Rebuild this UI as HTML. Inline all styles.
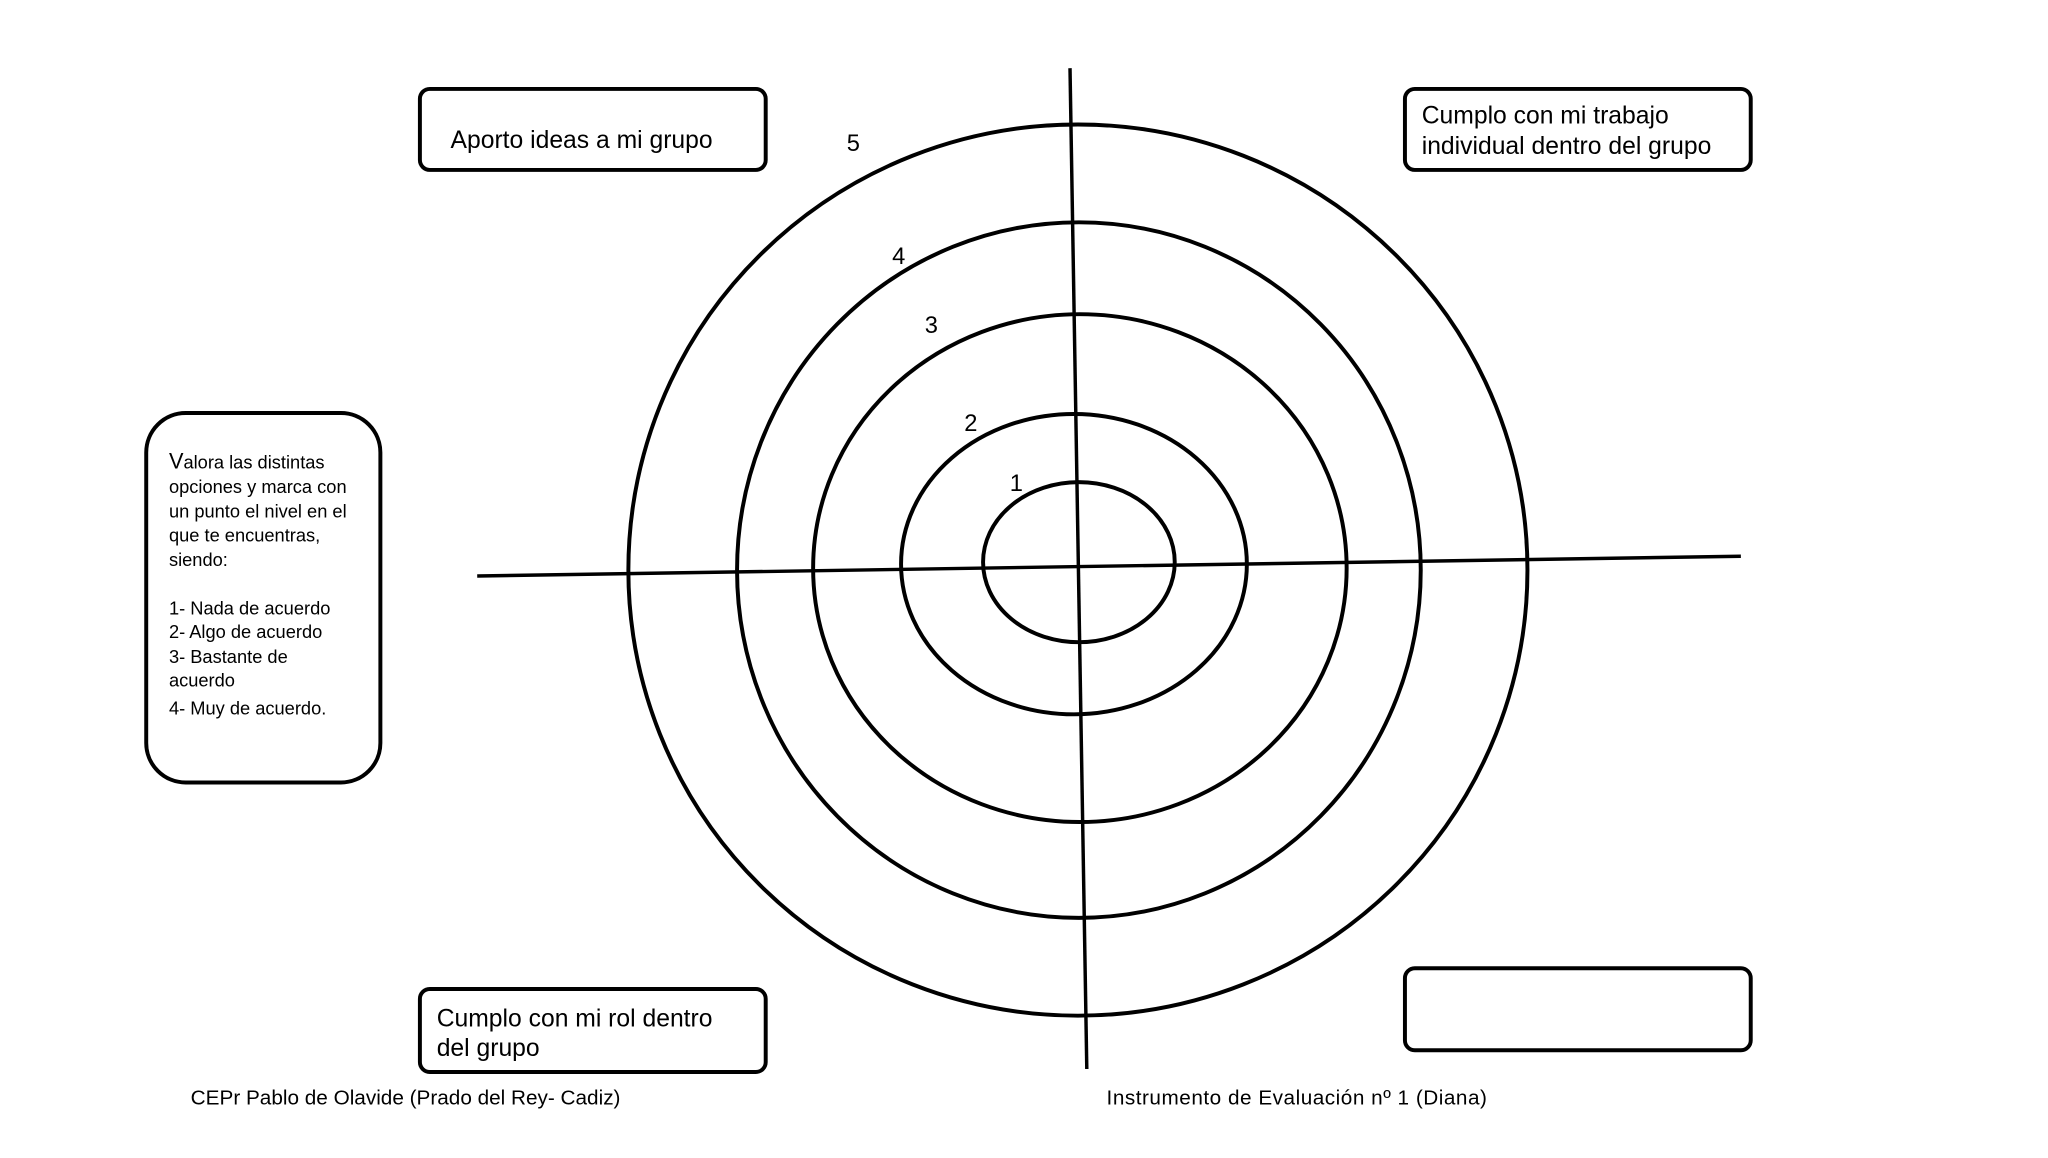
<!DOCTYPE html>
<html><head><meta charset="utf-8"><style>
html,body{margin:0;padding:0;background:#fff;}
svg{display:block;}
text{font-family:"Liberation Sans",Arial,sans-serif;fill:#000;}
</style></head><body>
<svg width="2048" height="1158" viewBox="0 0 2048 1158" xmlns="http://www.w3.org/2000/svg">
<g transform="scale(0.988)">
<g fill="none" stroke="#000" stroke-width="4">
<ellipse cx="1091" cy="577" rx="455" ry="451"/>
<ellipse cx="1092" cy="577" rx="346" ry="352"/>
<ellipse cx="1093" cy="575" rx="270" ry="257"/>
<ellipse cx="1087" cy="571" rx="175" ry="152"/>
<ellipse cx="1092" cy="569" rx="97" ry="81"/>
<line x1="1083" y1="69" x2="1100" y2="1082" stroke-width="3.5"/>
<line x1="483" y1="583" x2="1762" y2="563" stroke-width="3.5"/>
<rect x="425" y="90" width="350" height="82" rx="10"/>
<rect x="1422" y="90" width="350" height="82" rx="10"/>
<rect x="148" y="418" width="237" height="374" rx="40"/>
<rect x="425" y="1001" width="350" height="84" rx="10"/>
<rect x="1422" y="980" width="350" height="83" rx="10"/>
</g>
<g font-size="25">
<text x="456" y="150">Aporto ideas a mi grupo</text>
<text x="1439" y="125">Cumplo con mi trabajo</text>
<text x="1439" y="156">individual dentro del grupo</text>
<text x="442" y="1039">Cumplo con mi rol dentro</text>
<text x="442" y="1069">del grupo</text>
</g>
<g font-size="24">
<text x="857" y="153">5</text>
<text x="903" y="267">4</text>
<text x="936" y="337">3</text>
<text x="976" y="436">2</text>
<text x="1022" y="497">1</text>
</g>
<g font-size="18.5">
<text x="171" y="474"><tspan font-size="22">V</tspan>alora las distintas</text>
<text x="171" y="499">opciones y marca con</text>
<text x="171" y="524">un punto el nivel en el</text>
<text x="171" y="548">que te encuentras,</text>
<text x="171" y="573">siendo:</text>
<text x="171" y="622">1- Nada de acuerdo</text>
<text x="171" y="646">2- Algo de acuerdo</text>
<text x="171" y="671">3- Bastante de</text>
<text x="171" y="695">acuerdo</text>
<text x="171" y="723">4- Muy de acuerdo.</text>
</g>
<g font-size="21">
<text x="193" y="1118" textLength="435">CEPr Pablo de Olavide (Prado del Rey- Cadiz)</text>
<text x="1120" y="1118" textLength="385">Instrumento de Evaluación nº 1 (Diana)</text>
</g>
</g>
</svg>
</body></html>
